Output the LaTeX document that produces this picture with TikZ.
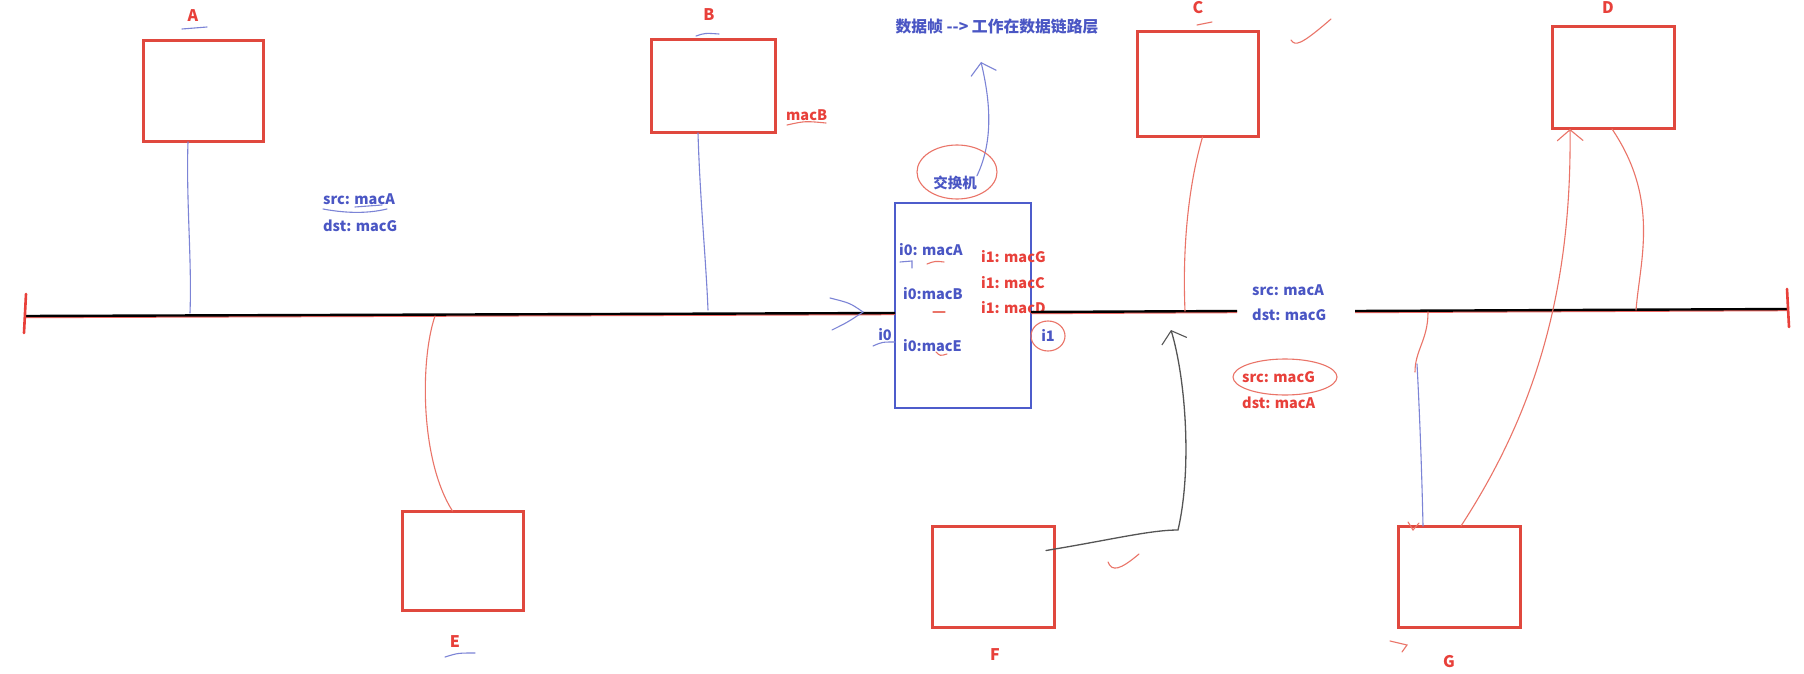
\documentclass[tikz,border=0pt]{standalone}
\usepackage{fontspec}
\setmainfont{Noto Sans CJK SC}
\usetikzlibrary{arrows.meta}
\definecolor{tblue}{HTML}{4A56C4}
\definecolor{tred}{HTML}{E8403A}
\definecolor{bred}{HTML}{E0483E}
\definecolor{lblue}{HTML}{7C84D6}
\definecolor{lred}{HTML}{EA7468}
\definecolor{sblue}{HTML}{4D5CCB}
\definecolor{fgray}{HTML}{555555}
\tikzset{
  host/.style={draw=bred, line width=3pt, inner sep=0pt, outer sep=0pt},
  swbox/.style={draw=sblue, line width=2.2pt, inner sep=0pt, outer sep=0pt},
  lab/.style={text=tred, font=\fontsize{16}{19}\selectfont\bfseries, inner sep=0pt},
  btxt/.style={text=tblue, font=\fontsize{14.5}{17}\selectfont\bfseries, inner sep=0pt, anchor=west},
  rtxt/.style={text=tred, font=\fontsize{14.5}{17}\selectfont\bfseries, inner sep=0pt, anchor=west},
  bus/.style={draw=black, line width=2.4pt},
  busred/.style={draw=tred!80, line width=2.4pt},
  bthin/.style={draw=lblue, line width=1.1pt, line cap=round},
  rthin/.style={draw=lred, line width=1.1pt, line cap=round},
  gthin/.style={draw=fgray, line width=1.3pt, line cap=round},
  tick/.style={draw=tred, line width=2.6pt, line cap=round},
  barb/.style={-{Straight Barb[length=11pt, width=26pt, line width=1.1pt]}},
}
\begin{document}
\begin{tikzpicture}[x=1pt, y=-1pt]
\useasboundingbox[fill=white] (0,0) rectangle (1804,674);

% hosts
\node[host, minimum width=120pt, minimum height=101pt] (A) at (203,91.5) {};
\node[host, minimum width=124pt, minimum height=93pt]  (B) at (713,86.5) {};
\node[host, minimum width=121pt, minimum height=105pt] (C) at (1197.5,84.5) {};
\node[host, minimum width=122pt, minimum height=102pt] (D) at (1613,78) {};
\node[host, minimum width=121pt, minimum height=99pt]  (E) at (462.5,560.5) {};
\node[host, minimum width=122pt, minimum height=101pt] (F) at (993,576.5) {};
\node[host, minimum width=122pt, minimum height=101pt] (G) at (1459,576.5) {};
% switch
\node[swbox, minimum width=136pt, minimum height=205pt] (S) at (963,305.5) {};

% labels
\node[lab] (lA) at (193,16) {A};
\node[lab] (lB) at (709,15) {B};
\node[lab] (lC) at (1198,8) {C};
\node[lab] (lD) at (1608,8) {D};
\node[lab] (lE) at (455,642) {E};
\node[lab] (lF) at (995,655) {F};
\node[lab] (lG) at (1449,662) {G};
\node[rtxt] (mB) at (786,115) {macB};

% title
\node[text=tblue, font=\fontsize{15.8}{19}\selectfont\bfseries, inner sep=0pt] (title) at (997,27) {数据帧 -{}-> 工作在数据链路层};
\node[text=tblue, font=\fontsize{14.5}{17}\selectfont\bfseries, inner sep=0pt] (sw) at (955,183) {交换机};
\coordinate (tip) at (981,62);

% switch table
\node[btxt] (t1) at (899,250) {i0: macA};
\node[btxt] (t2) at (903,294) {i0:macB};
\node[btxt] (t3) at (903,346) {i0:macE};
\node[rtxt] (t4) at (981,257) {i1: macG};
\node[rtxt] (t5) at (981,283) {i1: macC};
\node[rtxt] (t6) at (981,308) {i1: macD};
\node[text=tblue, font=\fontsize{14.5}{17}\selectfont\bfseries, inner sep=0pt] (p0) at (885,335) {i0};
\node[text=tblue, font=\fontsize{14.5}{17}\selectfont\bfseries, inner sep=0pt] (p1) at (1048,335) {i1};

% frame texts
\node[btxt] (f1) at (323,199) {src: macA};
\node[btxt] (f2) at (323,226) {dst: macG};
\node[btxt] (f3) at (1252,290) {src: macA};
\node[btxt] (f4) at (1252,315) {dst: macG};
\node[rtxt] (f5) at (1242,377) {src: macG};
\node[rtxt] (f6) at (1242,403) {dst: macA};

% bus
\coordinate (bL) at (25,316);
\coordinate (sL) at (895,313);
\coordinate (sR) at (1031,312);
\coordinate (g1) at (1237,311);
\coordinate (g2) at (1355,311);
\coordinate (bR) at (1788,309);
\draw[busred] ([yshift=-1pt]bL) -- ([yshift=-1pt]sL);
\draw[busred] ([yshift=-1pt]sR) -- ([yshift=-1pt]g1);
\draw[busred] ([yshift=-1pt]g2) -- ([yshift=-1pt]bR);
\draw[bus] (bL) -- (sL);
\draw[bus] (sR) -- (g1);
\draw[bus] (g2) -- (bR);
\draw[tick] (26,294) -- (24,333);
\draw[tick] (1787,289) -- (1789,327);

% taps
\coordinate (tA) at (190,313);
\coordinate (tB) at (708,310);
\coordinate (tE) at (435,316);
\coordinate (tC) at (1185,311);
\coordinate (tD) at (1636,310);
\coordinate (tG) at (1428,312);
\coordinate (gm) at (1415,372);
\coordinate (gb) at (1417,364);
\coordinate (fu) at (1171,330);

\draw[bthin] ([xshift=-15pt]A.south) .. controls (186,200) and (192,260) .. (tA);
\draw[bthin] ([xshift=-15pt]B.south) .. controls (700,200) and (706,260) .. (tB);
\draw[rthin] (tE) .. controls (420,360) and (420,460) .. ([xshift=-10pt]E.north);
\draw[rthin] ([xshift=5pt]C.south) .. controls (1190,180) and (1182,240) .. (tC);
\draw[rthin] ([xshift=-1pt]D.south) .. controls (1660,200) and (1640,260) .. (tD);
\draw[rthin] (tG) .. controls (1428,340) and (1415,350) .. (gm);
\draw[bthin] (gb) .. controls (1420,420) and (1422,480) .. ([xshift=-36pt]G.north);
\draw[rthin, barb] ([xshift=2pt]G.north) .. controls (1530,420) and (1572,300) .. ([xshift=-43pt]D.south);
\draw[gthin, barb] ([xshift=-8pt, yshift=26pt]F.east) .. controls (1110,540) and (1150,530) .. (1178,530) .. controls (1192,470) and (1186,380) .. (fu);
\draw[bthin, barb] (sw.north east) .. controls (994,140) and (990,100) .. (tip);

% arrow on bus into switch
\draw[bthin] (830,298) .. controls (850,303) .. (863,312) .. controls (848,322) .. (832,330);

% circles
\draw[rthin] (957,172) ellipse [x radius=40, y radius=27];
\draw[rthin] (1048,336) ellipse [x radius=17, y radius=15];
\draw[rthin] (1285,377) ellipse [x radius=52, y radius=18];

% small scribbles
\draw[bthin] (182,29) -- (207,27);
\draw[bthin] (696,36) .. controls (705,33) .. (719,34);
\draw[rthin] (1197,25) -- (1212,22);
\draw[bthin] (445,657) .. controls (458,653) .. (475,653);
\draw[rthin] (787,125) .. controls (805,121) .. (826,123);
\draw[bthin] (323,209) .. controls (350,214) and (370,213) .. (387,209);
\draw[bthin] (355,207) -- (382,205);
\draw[bthin] (900,262) -- (912,261) -- (912,268);
\draw[rthin] (927,264) .. controls (935,261) .. (944,262);
\draw[rthin] (933,312) -- (945,312);
\draw[rthin] (936,352) .. controls (940,356) .. (947,354);
\draw[bthin] (873,346) .. controls (882,342) .. (895,342);
\draw[rthin] (1291,40) .. controls (1295,46) and (1300,46) .. (1331,19);
\draw[rthin] (1108,562) .. controls (1112,572) and (1120,570) .. (1139,554);
\draw[rthin] (1408,522) -- (1413,530) -- (1419,523);
\draw[rthin] (1390,641) -- (1407,645) -- (1402,652);
\end{tikzpicture}
\end{document}
